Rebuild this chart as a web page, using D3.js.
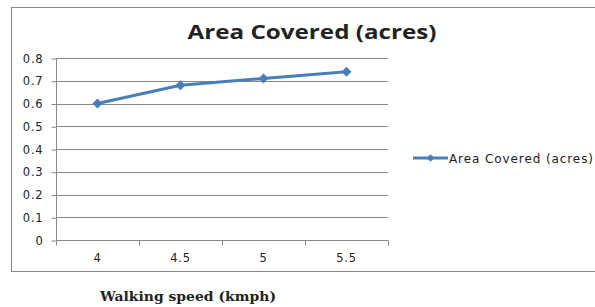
<!DOCTYPE html>
<html>
<head>
<meta charset="utf-8">
<script src="https://cdn.jsdelivr.net/npm/d3@7"></script>
<style>
  body { margin: 0; background: #fff; }
  text { font-family: "DejaVu Sans", sans-serif; fill: #222; }
</style>
</head>
<body>
<div id="chart"></div>
<script>
// data
const speeds = ["4", "4.5", "5", "5.5"];
const areaCovered = [0.60, 0.68, 0.71, 0.74];
const yTicks = [0, 0.1, 0.2, 0.3, 0.4, 0.5, 0.6, 0.7, 0.8];
const seriesName = "Area Covered (acres)";
const xTitle = "Walking speed (kmph)";

const width = 595, height = 307;
const plot = {left: 56, right: 388, top: 58, bottom: 240};
const blue = "#4a7ebb";
const grey = "#888888";

let svg = d3.select("#chart").append("svg")
    .attr("width", width)
    .attr("height", height);

// outer chart frame
svg.append("rect")
    .attr("x", 11.5).attr("y", 7.5)
    .attr("width", 600).attr("height", 264)
    .attr("fill", "none")
    .attr("stroke", grey);

let xScale = d3.scaleBand()
    .domain(speeds)
    .range([plot.left, plot.right]);

let yScale = d3.scaleLinear()
    .domain([0, 0.8])
    .range([plot.bottom, plot.top]);

// horizontal gridlines
svg.append("g").selectAll("line")
    .data(yTicks.filter(d => d > 0))
    .enter().append("line")
    .attr("x1", plot.left).attr("x2", plot.right)
    .attr("y1", d => Math.round(yScale(d)) + 0.5)
    .attr("y2", d => Math.round(yScale(d)) + 0.5)
    .attr("stroke", grey);

// y axis
let yAxis = d3.axisLeft(yScale)
    .tickValues(yTicks)
    .tickFormat(d => d === 0 ? "0" : d3.format(".1f")(d))
    .tickSize(5)
    .tickPadding(8);
let gy = svg.append("g")
    .attr("transform", "translate(" + (plot.left + 0.5) + ",0.5)")
    .call(yAxis);
gy.select(".domain").attr("stroke", grey).attr("d", "M0," + plot.top + "V" + plot.bottom);
gy.selectAll(".tick line").attr("stroke", grey);
gy.selectAll(".tick text")
    .style("font-size", "11.5px")
    .style("letter-spacing", "0.8px")
    .attr("fill", "#222");

// x axis: ticks sit between categories
let gx = svg.append("g")
    .attr("transform", "translate(0," + (plot.bottom + 0.5) + ")");
gx.append("line")
    .attr("x1", plot.left).attr("x2", plot.right)
    .attr("stroke", grey);
let boundaries = speeds.map(d => xScale(d)).concat([xScale.range()[1]]);
gx.selectAll("line.tk")
    .data(boundaries)
    .enter().append("line")
    .attr("class", "tk")
    .attr("x1", d => Math.round(d) + 0.5).attr("x2", d => Math.round(d) + 0.5)
    .attr("y1", 0).attr("y2", 5)
    .attr("stroke", grey);
gx.selectAll("text")
    .data(speeds)
    .enter().append("text")
    .attr("x", d => xScale(d) + xScale.bandwidth() / 2)
    .attr("y", 21)
    .attr("text-anchor", "middle")
    .style("font-size", "11.5px")
    .style("letter-spacing", "0.8px")
    .text(d => d);

// series line
let line = d3.line()
    .x((d, i) => xScale(speeds[i]) + xScale.bandwidth() / 2)
    .y(d => yScale(d));

svg.append("path")
    .datum(areaCovered)
    .attr("d", line)
    .attr("fill", "none")
    .attr("stroke", blue)
    .attr("stroke-width", 3)
    .attr("stroke-linejoin", "round");

// diamonds = squares turned 45 degrees
let marker = d3.symbol().type(d3.symbolSquare).size(50);
svg.append("g").selectAll("path")
    .data(areaCovered)
    .enter().append("path")
    .attr("d", marker)
    .attr("transform", (d, i) => "translate(" + (xScale(speeds[i]) + xScale.bandwidth() / 2) + "," + yScale(d) + ") rotate(45)")
    .attr("fill", blue);

// title
svg.append("text")
    .attr("x", 312)
    .attr("y", 39)
    .attr("text-anchor", "middle")
    .style("font-family", "'Open Sans', sans-serif")
    .style("font-weight", "bold")
    .style("font-size", "19px")
    .attr("textLength", 249)
    .attr("lengthAdjust", "spacingAndGlyphs")
    .attr("fill", "#111")
    .text(seriesName);

// legend
let legend = svg.append("g").attr("transform", "translate(413,158)");
legend.append("line")
    .attr("x1", 0).attr("x2", 35)
    .attr("stroke", blue).attr("stroke-width", 3);
legend.append("path")
    .attr("d", d3.symbol().type(d3.symbolSquare).size(30))
    .attr("transform", "translate(17.5,0) rotate(45)")
    .attr("fill", blue);
legend.append("text")
    .attr("x", 36)
    .attr("y", 4.5)
    .style("font-size", "12px")
    .attr("textLength", 144)
    .attr("lengthAdjust", "spacing")
    .text(seriesName);

// x axis title, below the frame
svg.append("text")
    .attr("x", 188)
    .attr("y", 301)
    .attr("text-anchor", "middle")
    .style("font-family", "'DejaVu Serif', serif")
    .style("font-weight", "bold")
    .style("font-size", "12px")
    .attr("textLength", 176)
    .attr("lengthAdjust", "spacingAndGlyphs")
    .attr("fill", "#222")
    .text(xTitle);
</script>
</body>
</html>
